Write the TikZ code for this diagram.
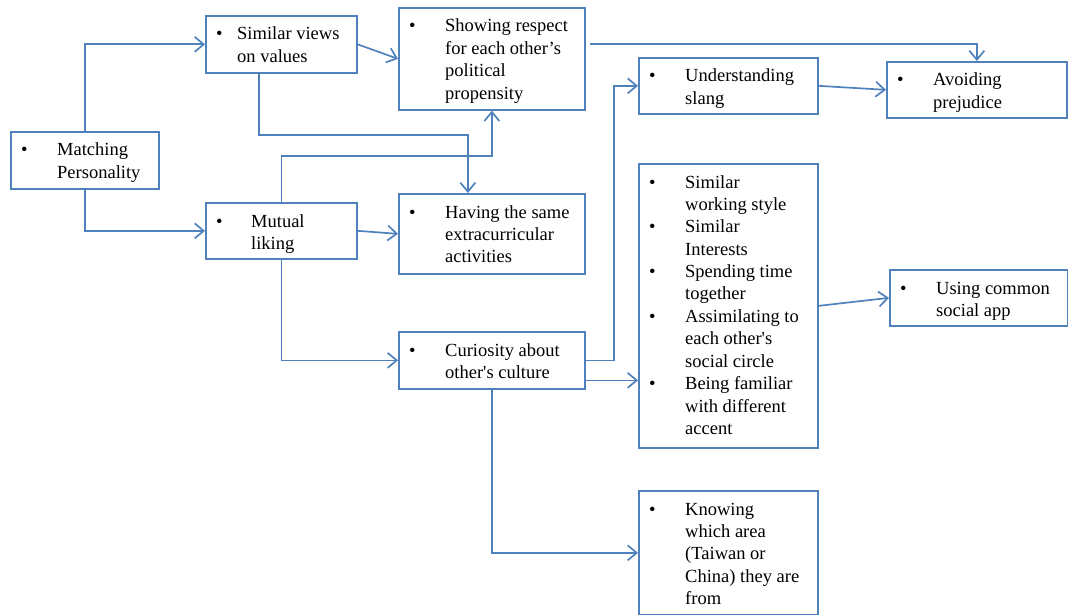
\documentclass[tikz,border=0pt]{standalone}
\usepackage{fontspec}
\setmainfont{Liberation Serif}
\usetikzlibrary{arrows.meta}
\definecolor{linkblue}{RGB}{79,129,189}
\tikzset{
  card/.style={draw=linkblue, line width=1.7pt, rectangle, anchor=north west, inner sep=0pt},
  cardtext/.style={anchor=base west, inner sep=0pt, font=\fontsize{18.5}{22.4}\selectfont},
  conn/.style={draw=linkblue, line width=1.7pt, -{Straight Barb[length=9pt,width=15pt]}},
}
% \card{name}{x}{y}{width}{height}{bullet column}{rows}
\newcommand{\card}[7]{%
  \node[card, minimum width=#4pt, minimum height=#5pt] (#1) at (#2,#3) {};
  \node[cardtext] (#1-text) at ([xshift=11pt,yshift=-25pt]#1.north west)
    {\begin{tabular}[t]{@{}p{#6pt}@{}l@{}}#7\end{tabular}};
}
\newcommand{\apos}{\textquotesingle}
\begin{document}
\begin{tikzpicture}[x=1pt, y=-1pt]
\useasboundingbox (0,0) rectangle (1068,615);

% boxes
\card{mp}{10}{131}{148}{57}{36}{\textbullet & Matching\\ & Personality}
\card{sv}{205}{15}{151}{57}{21}{\textbullet & Similar views\\ & on values}
\card{mu}{205}{202}{151}{56}{35}{\textbullet & Mutual\\ & liking}
\card{sr}{398}{7}{186}{102}{36}{\textbullet & Showing respect\\ & for each other’s\\ & political\\ & propensity}
\card{hs}{398}{193}{186}{80}{36}{\textbullet & Having the same\\ & extracurricular\\ & activities}
\card{cu}{398}{331}{186}{57}{36}{\textbullet & Curiosity about\\ & other\apos s culture}
\card{us}{638}{57}{179}{56}{36}{\textbullet & Understanding\\ & slang}
\card{ap}{886}{61}{180}{56}{36}{\textbullet & Avoiding\\ & prejudice}
\card{sl}{638}{163}{179}{284}{36}{\textbullet & Similar\\ & working style\\
  \textbullet & Similar\\ & Interests\\
  \textbullet & Spending time\\ & together\\
  \textbullet & Assimilating to\\ & each other\apos s\\ & social circle\\
  \textbullet & Being familiar\\ & with different\\ & accent}
\card{uc}{889}{269}{178}{56}{36}{\textbullet & Using common\\ & social app}
\card{kn}{638}{490}{179}{124}{36}{\textbullet & Knowing\\ & which area\\ & (Taiwan or\\ & China) they are\\ & from}

% connectors
\draw[conn] (mp.north) |- (sv.west);
\draw[conn] (mp.south) |- (mu.west);
\draw[conn] (sv.east) -- (sr.west);
\draw[conn] ([xshift=-22.5pt]sv.south) -- ++(0,61) -| ([xshift=-24pt]hs.north);
\draw[conn] (mu.north) -- ++(0,-46) -| (sr.south);
\draw[conn] (mu.east) -- (hs.west);
\draw[conn] (mu.south) |- (cu.west);
\draw[conn] ([xshift=4pt,yshift=15pt]sr.east) -| (ap.north);
\draw[conn] (cu.east) -- ++(28,0) |- (us.west);
\draw[conn] ([yshift=-20pt]cu.east) -- ([yshift=-20pt]cu.east -| sl.west);
\draw[conn] (cu.south) |- (kn.west);
\draw[conn] (us.east) -- (ap.west);
\draw[conn] (sl.east) -- (uc.west);
\end{tikzpicture}
\end{document}
